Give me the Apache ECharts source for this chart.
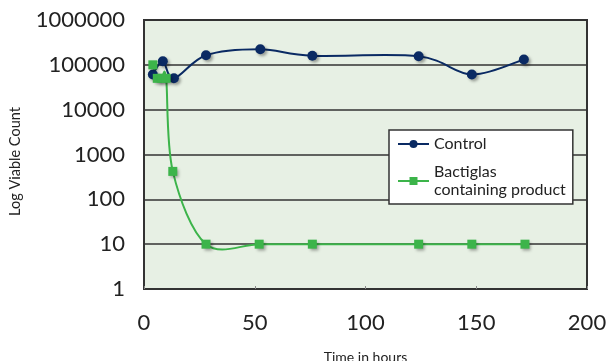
<!DOCTYPE html>
<html>
<head>
<meta charset="utf-8">
<script src="https://cdn.jsdelivr.net/npm/echarts@6/dist/echarts.min.js"></script>
<style>html,body{margin:0;padding:0;background:#fff}#c{width:608px;height:361px}</style>
</head>
<body>
<div id="c"></div>
<script>
var controlHours = [4, 8.5, 13.5, 28, 52.5, 76, 124, 148, 171.5];
var controlCounts = [61000, 120000, 50000, 163000, 222000, 160000, 155000, 61000, 132000];
var bactHours = [4, 6, 8, 10, 13, 28, 52, 76, 124, 148, 172];
var bactCounts = [100000, 50000, 50000, 50000, 420, 10, 10, 10, 10, 10, 10];
var xTicks = [0, 50, 100, 150, 200];
var yTicks = [1, 10, 100, 1000, 10000, 100000, 1000000];

var CONTROL_COLOR = '#0a2a63';
var BACT_COLOR = '#3cb44a';

function pairs(xs, ys) { return xs.map(function (x, i) { return [x, ys[i]]; }); }

// Smooth (Catmull-Rom style Bezier) curve through data points, positioned via the axes.
function curveRenderer(data, color) {
  return function (params, api) {
    var i = params.dataIndex;
    if (i !== 0) return null;
    var pts = data.map(function (d) { return api.coord(d); });
    var path = 'M' + pts[0][0] + ' ' + pts[0][1];
    for (var k = 0; k < pts.length - 1; k++) {
      var p0 = pts[Math.max(k - 1, 0)], p1 = pts[k], p2 = pts[k + 1], p3 = pts[Math.min(k + 2, pts.length - 1)];
      var c1x = p1[0] + (p2[0] - p0[0]) / 6, c1y = p1[1] + (p2[1] - p0[1]) / 6;
      var c2x = p2[0] - (p3[0] - p1[0]) / 6, c2y = p2[1] - (p3[1] - p1[1]) / 6;
      path += ' C' + c1x + ' ' + c1y + ' ' + c2x + ' ' + c2y + ' ' + p2[0] + ' ' + p2[1];
    }
    return {
      type: 'path',
      shape: { pathData: path },
      style: { fill: null, stroke: color, lineWidth: 2 }
    };
  };
}

var controlData = pairs(controlHours, controlCounts);
var bactData = pairs(bactHours, bactCounts);

var font = 'Lato';
var chart = echarts.init(document.getElementById('c'));
chart.setOption({
  animation: false,
  textStyle: { fontFamily: font },
  grid: {
    left: 144, right: 21, top: 20, bottom: 72,
    outerBoundsMode: 'none',
    show: true, backgroundColor: '#e7f0e4', borderColor: '#333', borderWidth: 2
  },
  legend: {
    orient: 'vertical',
    left: 389, top: 130,
    padding: [5, 7, 5, 8],
    itemGap: 10,
    itemWidth: 31, itemHeight: 10,
    backgroundColor: '#fff',
    borderColor: '#333', borderWidth: 1.5,
    textStyle: { fontFamily: font, fontSize: 16, color: '#222', lineHeight: 18 },
    data: [
      { name: 'Control', lineStyle: { opacity: 1, width: 2, color: CONTROL_COLOR } },
      { name: 'Bactiglas\ncontaining product', lineStyle: { opacity: 1, width: 2, color: BACT_COLOR } }
    ]
  },
  xAxis: {
    type: 'value', min: xTicks[0], max: xTicks[xTicks.length - 1], interval: 50,
    name: 'Time in hours', nameLocation: 'middle', nameGap: 61,
    nameTextStyle: { fontFamily: font, fontSize: 14, color: '#222' },
    axisLine: { show: true, lineStyle: { color: '#333', width: 2 } },
    axisTick: { show: true, inside: true, length: 3, lineStyle: { color: '#888' } },
    axisLabel: { fontFamily: font, fontSize: 22, color: '#222', margin: 23 },
    splitLine: { show: false }
  },
  yAxis: {
    type: 'log', logBase: 10, min: yTicks[0], max: yTicks[yTicks.length - 1], interval: 1,
    name: 'Log Viable Count', nameLocation: 'middle', nameGap: 121,
    nameTextStyle: { fontFamily: font, fontSize: 14.5, color: '#222', padding: [0, 14, 0, 0] },
    axisLine: { show: true, lineStyle: { color: '#333', width: 2 } },
    axisTick: { show: false },
    axisLabel: { fontFamily: font, fontSize: 22, color: '#222', margin: 19,
      formatter: function (v) { return String(Math.round(v)); } },
    splitLine: { show: true, lineStyle: { color: '#333', width: 1.5 } }
  },
  series: [
    {
      name: 'controlCurve', type: 'custom', data: controlData,
      renderItem: curveRenderer(controlData, CONTROL_COLOR), silent: true, z: 2
    },
    {
      name: 'bactCurve', type: 'custom', data: bactData,
      renderItem: curveRenderer(bactData, BACT_COLOR), silent: true, z: 2
    },
    {
      name: 'Control', type: 'line',
      data: controlData,
      symbol: 'circle', symbolSize: 10,
      lineStyle: { color: CONTROL_COLOR, width: 2, opacity: 0 },
      itemStyle: { color: CONTROL_COLOR, shadowBlur: 3, shadowColor: 'rgba(0,0,0,0.35)', shadowOffsetX: 2, shadowOffsetY: 2 },
      z: 3
    },
    {
      name: 'Bactiglas\ncontaining product', type: 'line',
      data: bactData,
      symbol: 'rect', symbolSize: 9,
      lineStyle: { color: BACT_COLOR, width: 2, opacity: 0 },
      itemStyle: { color: BACT_COLOR, shadowBlur: 3, shadowColor: 'rgba(0,0,0,0.35)', shadowOffsetX: 2, shadowOffsetY: 2 },
      z: 4
    }
  ]
});
</script>
</body>
</html>
